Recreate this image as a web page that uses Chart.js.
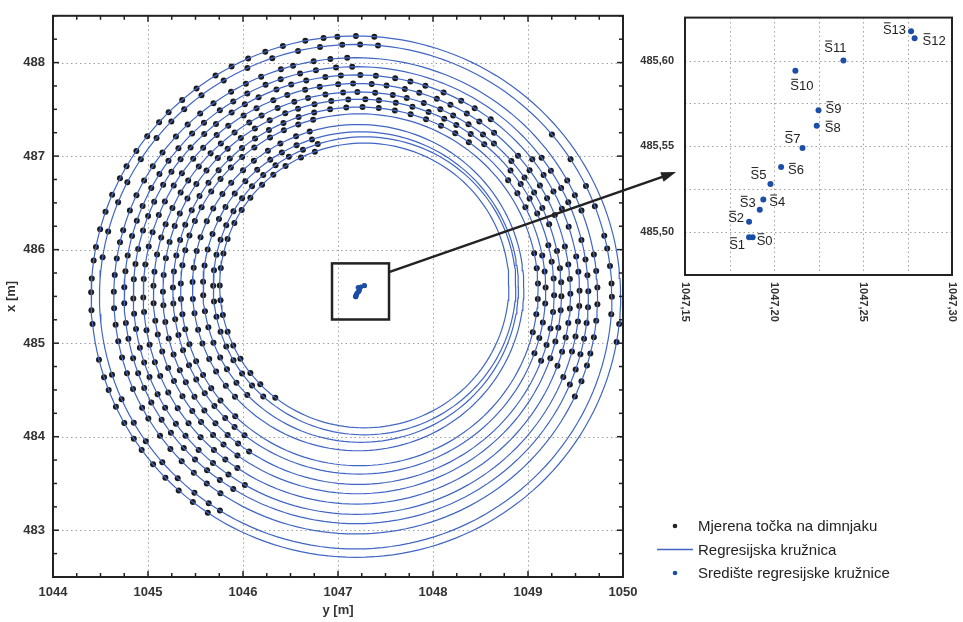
<!DOCTYPE html>
<html>
<head>
<meta charset="utf-8">
<title>Regresijske kružnice dimnjaka</title>
<script src="https://cdn.jsdelivr.net/npm/chart.js@4.4.0/dist/chart.umd.min.js"></script>
<style>
  body { margin: 0; background: #fff; }
  #wrap { position: relative; width: 963px; height: 622px; }
  #glavni { position: absolute; left: 0; top: 0; }
  #detalj { position: absolute; left: 630px; top: 0; }
</style>
</head>
<body>
<div id="wrap">
  <canvas id="glavni" width="963" height="622"></canvas>
  <canvas id="detalj" width="333" height="340"></canvas>
</div>
<script>
// PODACI (geodetski: y = vodoravna os, x = okomita os)

const names = ["S0", "S1", "S2", "S3", "S4", "S5", "S6", "S7", "S8", "S9", "S10", "S11", "S12", "S13"];

// središta regresijskih kružnica
const cenY = [1047.188, 1047.186, 1047.186, 1047.192, 1047.194, 1047.198, 1047.204,
              1047.216, 1047.224, 1047.225, 1047.212, 1047.239, 1047.279, 1047.277];
const cenX = [485.497, 485.497, 485.506, 485.513, 485.519, 485.528, 485.538,
              485.549, 485.562, 485.571, 485.594, 485.600, 485.613, 485.617];

// polumjeri kružnica [m]
const radii = [2.787, 2.697, 2.546, 2.443, 2.349, 2.248, 2.148,
               2.059, 1.962, 1.881, 1.744, 1.660, 1.593, 1.522];

// smjerovi (stupnjevi) mjerenih točaka na svakoj kružnici
const angles = [
  [86, 90, 94, 97, 101, 106, 110, 114, 118, 122, 127, 131, 135, 138, 142, 146, 150, 153, 157, 161, 165, 169, 172, 176, 179, 183, 186, 194, 198, 201, 205, 209, 213, 216, 220, 224, 228, 232, 236, -10, -6],
  [85, 89, 93, 98, 103, 109, 115, 121, 127, 132, 136, 141, 147, 153, 158, 165, 171, 198, 204, 210, 215, 221, 226, 231, 235, 238, -4, 0, 3, 7, 11, 14, 21, 26, 33, 40],
  [92, 96, 100, 105, 108, 113, 117, 121, 126, 130, 134, 138, 143, 147, 151, 155, 159, 164, 167, 171, 175, 179, 183, 187, 191, 195, 199, 203, 208, 211, 216, 220, 224, 228, 232, 236, -25, -21, -17, -14, -10, -6, -2, 2, 6, 10, 21, 25, 29],
  [91, 95, 100, 104, 109, 113, 118, 122, 126, 131, 135, 140, 144, 148, 152, 157, 161, 165, 170, 174, 178, 182, 187, 191, 196, 200, 204, 208, 213, 217, 222, 226, 230, 234, 238, -23, -19, -15, -11, -7, -3, 1, 5, 9, 14, 24, 28, 33, 37],
  [53, 58, 62, 67, 72, 76, 80, 85, 89, 94, 98, 103, 107, 111, 116, 120, 124, 129, 133, 138, 142, 146, 150, 155, 159, 163, 168, 172, 176, 181, 185, 189, 194, 198, 202, 207, 211, 216, 220, 225, 230, 235, 240, -22, -15, -11, -7, -3, 1, 6, 10, 18, 23, 28, 33, 38],
  [50, 55, 59, 64, 68, 73, 77, 82, 86, 91, 95, 100, 104, 109, 113, 118, 122, 127, 131, 136, 140, 145, 149, 154, 158, 163, 167, 172, 176, 181, 185, 190, 194, 199, 203, 208, 213, 218, 223, 228, 232, 236, -20, -16, -12, -8, -4, 0, 4, 8, 13, 22, 27, 31, 36, 41],
  [48, 52, 57, 62, 66, 71, 76, 80, 85, 90, 94, 99, 104, 108, 113, 118, 122, 127, 132, 136, 141, 146, 150, 155, 160, 164, 169, 174, 178, 183, 188, 192, 197, 202, 206, 211, 216, 220, 225, 229, 234, -19, -14, -10, -5, -1, 3, 7, 12, 20, 25, 30, 35, 41],
  [50, 55, 60, 64, 69, 74, 79, 84, 88, 93, 98, 103, 108, 112, 117, 122, 127, 132, 136, 141, 146, 151, 156, 160, 165, 170, 175, 180, 184, 189, 194, 199, 204, 208, 213, 218, 223, 228, 232, 236, -21, -16, -11, -6, -1, 4, 9, 14, 24, 29, 34, 39],
  [54, 59, 64, 69, 74, 79, 84, 89, 94, 99, 104, 109, 114, 119, 124, 129, 134, 139, 144, 149, 154, 159, 164, 169, 174, 179, 184, 189, 194, 199, 204, 209, 214, 219, 224, 228, 232, -20, -15, -10, -4, 1, 6, 11, 27, 32, 37],
  [105, 110, 115, 120, 126, 131, 136, 141, 146, 152, 157, 162, 167, 172, 178, 183, 188, 193, 198, 204, 209, 214, 219, 226, -14, -8, -3, 2, 7, 12],
  [107, 112, 118, 123, 129, 134, 140, 145, 151, 156, 162, 167, 173, 178, 184, 189, 195, 200, 206, 211, 217, 222],
  [108, 114, 120, 125, 131, 137, 143, 149, 154, 160, 166, 172, 178, 183, 189, 195, 201, 207, 212, 218, 224],
  [108, 114, 120, 126, 132, 138, 144, 150, 156, 162, 168, 174, 180, 186, 192, 198, 204, 210, 216, 222, 228],
  [110, 116, 123, 129, 135, 142, 148, 154, 161, 167, 173, 180, 186, 192, 199, 205, 211, 218, 224, 232]
];

// oznake osi
const hTicks = [1044, 1045, 1046, 1047, 1048, 1049, 1050];
const vTicks = [483, 484, 485, 486, 487, 488];
const insetHTicks = [1047.15, 1047.20, 1047.25, 1047.30];
const insetVTicks = [485.50, 485.55, 485.60];

// okvir uvećanog dijela i strelica
const boxY = [1046.937, 1047.537];
const boxX = [485.253, 485.853];
const arrowFrom = [1047.537, 485.76];
const arrowTo = [1047.145, 485.535];

const legendItems = ["Mjerena točka na dimnjaku", "Regresijska kružnica", "Središte regresijske kružnice"];

// STIL
const FONT = '"Liberation Sans", Arial, sans-serif';
const BLUE_LINE = "#4065c4";
const BLUE_DOT = "#1b4ea6";
const DARK = "#222";

// pomaci oznaka središta u detalju [dx, dy, poravnanje]
const labelOff = [
  [4, 4, "left"], [-4, 8, "right"], [-5, -3, "right"], [-4, -6, "right"],
  [6, 3, "left"], [-4, -9, "right"], [7, 4, "left"], [-2, -9, "right"],
  [8, 3, "left"], [7, -1, "left"], [-5, 16, "left"], [3, -12, "right"],
  [8, 3, "left"], [-5, -1, "right"]
];

function fmt(v) {
  return v.toFixed(2).replace(".", ",");
}

function line(ctx, x1, y1, x2, y2) {
  ctx.beginPath();
  ctx.moveTo(x1, y1);
  ctx.lineTo(x2, y2);
  ctx.stroke();
}

// DETALJ (središta)

const insetCanvas = document.getElementById("detalj");

const insetDeco = {
  id: "insetDeco",
  beforeDatasetsDraw(chart) {
    const { ctx, chartArea: a, scales: { x, y } } = chart;
    ctx.save();
    ctx.strokeStyle = "#a0a0a0";
    ctx.lineWidth = 1;
    ctx.setLineDash([1.5, 3]);
    for (let v = x.min + 0.025; v < x.max - 0.001; v += 0.025) {
      const px = Math.round(x.getPixelForValue(v)) + 0.5;
      line(ctx, px, a.top, px, a.bottom);
    }
    for (let v = y.min + 0.025; v < y.max - 0.001; v += 0.025) {
      const py = Math.round(y.getPixelForValue(v)) + 0.5;
      line(ctx, a.left, py, a.right, py);
    }
    ctx.restore();
  },
  afterDatasetsDraw(chart) {
    const { ctx, chartArea: a, scales: { x, y } } = chart;
    ctx.save();
    ctx.strokeStyle = DARK;
    ctx.lineWidth = 2;
    ctx.strokeRect(a.left, a.top, a.right - a.left, a.bottom - a.top);

    // zarotirane oznake vodoravne osi
    ctx.fillStyle = "#333";
    ctx.font = "bold 11px " + FONT;
    ctx.textAlign = "left";
    ctx.textBaseline = "middle";
    insetHTicks.forEach(v => {
      ctx.save();
      ctx.translate(x.getPixelForValue(v), a.bottom + 7);
      ctx.rotate(Math.PI / 2);
      ctx.fillText(fmt(v), 0, 0);
      ctx.restore();
    });

    // oznake središta s crticom iznad S
    ctx.font = "13px " + FONT;
    ctx.fillStyle = DARK;
    ctx.strokeStyle = DARK;
    ctx.lineWidth = 1;
    names.forEach((n, i) => {
      const px = x.getPixelForValue(cenY[i]);
      const py = y.getPixelForValue(cenX[i]);
      const [dx, dy, al] = labelOff[i];
      const w = ctx.measureText(n).width;
      const start = al === "left" ? px + dx : px + dx - w;
      ctx.textAlign = "left";
      ctx.fillText(n, start, py + dy);
      const ws = ctx.measureText("S").width;
      line(ctx, start + 1, py + dy - 7.5, start + ws - 1, py + dy - 7.5);
    });
    ctx.restore();
  }
};

const insetChart = new Chart(insetCanvas, {
  type: "scatter",
  data: {
    datasets: [{
      data: cenY.map((v, i) => ({ x: v, y: cenX[i] })),
      pointRadius: 3,
      pointBorderWidth: 0,
      backgroundColor: BLUE_DOT
    }]
  },
  options: {
    responsive: false,
    animation: false,
    layout: { padding: { top: 8, right: 11, left: 0, bottom: 0 } },
    plugins: { legend: { display: false }, tooltip: { enabled: false } },
    scales: {
      x: {
        type: "linear", min: 1047.15, max: 1047.30,
        grid: { display: false, drawTicks: false }, border: { display: false },
        ticks: { display: false },
        afterFit: s => { s.height = 65; }
      },
      y: {
        type: "linear", min: 485.475, max: 485.625,
        grid: { display: false, drawTicks: false }, border: { display: false },
        afterBuildTicks: s => { s.ticks = insetVTicks.map(v => ({ value: v })); },
        ticks: { padding: 11, color: "#333", font: { family: FONT, size: 11, weight: "bold" }, callback: v => fmt(v) },
        afterFit: s => { s.width = 55; }
      }
    }
  },
  plugins: [insetDeco]
});

// GLAVNI GRAF

const circleSets = radii.map((r, i) => {
  const pts = [];
  for (let d = 0; d <= 360; d += 2) {
    const t = d * Math.PI / 180;
    pts.push({ x: cenY[i] + r * Math.cos(t), y: cenX[i] + r * Math.sin(t) });
  }
  return {
    data: pts, showLine: true, borderColor: BLUE_LINE, borderWidth: 1.2,
    pointRadius: 0, fill: false
  };
});

const measured = [];
angles.forEach((list, i) => {
  list.forEach(d => {
    const t = d * Math.PI / 180;
    measured.push({ x: cenY[i] + radii[i] * Math.cos(t), y: cenX[i] + radii[i] * Math.sin(t) });
  });
});

const mainDeco = {
  id: "mainDeco",
  beforeDatasetsDraw(chart) {
    const { ctx, chartArea: a, scales: { x, y } } = chart;
    ctx.save();
    ctx.strokeStyle = "#a0a0a0";
    ctx.lineWidth = 1;
    ctx.setLineDash([1.5, 3]);
    hTicks.forEach(v => {
      const px = Math.round(x.getPixelForValue(v)) + 0.5;
      line(ctx, px, a.top, px, a.bottom);
    });
    vTicks.forEach(v => {
      const py = Math.round(y.getPixelForValue(v)) + 0.5;
      line(ctx, a.left, py, a.right, py);
    });
    ctx.restore();
  },
  afterDatasetsDraw(chart) {
    const { ctx, chartArea: a, scales: { x, y } } = chart;
    ctx.save();

    // okvir i crtice prema unutra
    ctx.strokeStyle = DARK;
    ctx.lineWidth = 2;
    ctx.strokeRect(a.left, a.top, a.right - a.left, a.bottom - a.top);
    ctx.lineWidth = 1.5;
    for (let v = x.min; v <= x.max + 1e-9; v += 0.25) {
      const px = x.getPixelForValue(v);
      const len = hTicks.includes(Math.round(v * 100) / 100) ? 6 : 4;
      line(ctx, px, a.bottom, px, a.bottom - len);
      line(ctx, px, a.top, px, a.top + len);
    }
    for (let v = y.min; v <= y.max + 1e-9; v += 0.25) {
      const py = y.getPixelForValue(v);
      const len = vTicks.includes(Math.round(v * 100) / 100) ? 6 : 4;
      line(ctx, a.left, py, a.left + len, py);
      line(ctx, a.right, py, a.right - len, py);
    }

    // okvir uvećanog dijela
    ctx.lineWidth = 2.5;
    const bx1 = x.getPixelForValue(boxY[0]), bx2 = x.getPixelForValue(boxY[1]);
    const by1 = y.getPixelForValue(boxX[1]), by2 = y.getPixelForValue(boxX[0]);
    ctx.strokeRect(bx1, by1, bx2 - bx1, by2 - by1);

    // strelica prema detalju
    const sx = x.getPixelForValue(arrowFrom[0]);
    const sy = y.getPixelForValue(arrowFrom[1]);
    const ex = insetCanvas.offsetLeft + insetChart.scales.x.getPixelForValue(arrowTo[0]);
    const ey = insetCanvas.offsetTop + insetChart.scales.y.getPixelForValue(arrowTo[1]);
    const ang = Math.atan2(ey - sy, ex - sx);
    ctx.lineWidth = 2.5;
    line(ctx, sx, sy, ex - 10 * Math.cos(ang), ey - 10 * Math.sin(ang));
    ctx.fillStyle = DARK;
    ctx.beginPath();
    ctx.moveTo(ex, ey);
    ctx.lineTo(ex - 15 * Math.cos(ang) + 5 * Math.sin(ang), ey - 15 * Math.sin(ang) - 5 * Math.cos(ang));
    ctx.lineTo(ex - 15 * Math.cos(ang) - 5 * Math.sin(ang), ey - 15 * Math.sin(ang) + 5 * Math.cos(ang));
    ctx.closePath();
    ctx.fill();

    // legenda
    const lx = a.right + 52, ly = a.bottom - 51;
    ctx.font = "15px " + FONT;
    ctx.textAlign = "left";
    ctx.textBaseline = "middle";
    legendItems.forEach((t, i) => {
      const yy = ly + i * 23.5;
      if (i === 1) {
        ctx.strokeStyle = BLUE_LINE;
        ctx.lineWidth = 1.3;
        line(ctx, lx - 18, yy, lx + 18, yy);
      } else {
        ctx.fillStyle = i === 0 ? DARK : BLUE_DOT;
        ctx.beginPath();
        ctx.arc(lx, yy, 2.3, 0, Math.PI * 2);
        ctx.fill();
      }
      ctx.fillStyle = DARK;
      ctx.fillText(t, lx + 23, yy + 1);
    });
    ctx.restore();
  }
};

new Chart(document.getElementById("glavni"), {
  type: "scatter",
  data: {
    datasets: [
      ...circleSets,
      { data: measured, pointRadius: 3, pointBorderWidth: 0, backgroundColor: "#1c1c1c" },
      { data: cenY.map((v, i) => ({ x: v, y: cenX[i] })), pointRadius: 2.5, pointBorderWidth: 0, backgroundColor: BLUE_DOT }
    ]
  },
  options: {
    responsive: false,
    animation: false,
    layout: { padding: { top: 7, right: 340, left: 0, bottom: 0 } },
    plugins: { legend: { display: false }, tooltip: { enabled: false } },
    scales: {
      x: {
        type: "linear", min: 1044, max: 1050,
        grid: { display: false, drawTicks: false }, border: { display: false },
        afterBuildTicks: s => { s.ticks = hTicks.map(v => ({ value: v })); },
        ticks: { padding: 8, color: "#333", font: { family: FONT, size: 13, weight: "bold" }, callback: v => String(v) },
        title: { display: true, text: "y [m]", color: "#333", font: { family: FONT, size: 13, weight: "bold" } },
        afterFit: s => { s.height = 45; }
      },
      y: {
        type: "linear", min: 482.5, max: 488.5,
        grid: { display: false, drawTicks: false }, border: { display: false },
        afterBuildTicks: s => { s.ticks = vTicks.map(v => ({ value: v })); },
        ticks: { padding: 8, color: "#333", font: { family: FONT, size: 13, weight: "bold" }, callback: v => String(v) },
        title: { display: true, text: "x [m]", color: "#333", font: { family: FONT, size: 13, weight: "bold" } },
        afterFit: s => { s.width = 53; }
      }
    }
  },
  plugins: [mainDeco]
});
</script>
</body>
</html>
